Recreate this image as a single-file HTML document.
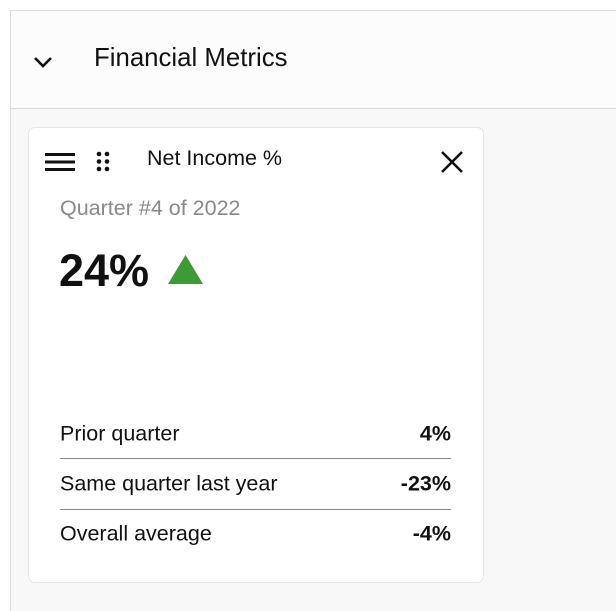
<!DOCTYPE html>
<html><head><meta charset="utf-8"><style>
html,body{margin:0;padding:0;width:616px;height:600px;overflow:hidden;background:#fff;font-family:"Liberation Sans",sans-serif;}
.panel{position:absolute;left:10px;top:10px;width:620px;height:600px;border-left:1px solid #ddd;border-top:1px solid #ddd;background:#f8f8f8;}
.header{position:absolute;left:0;top:0;width:100%;height:97px;background:#fcfcfc;border-bottom:1px solid #d8d8d8;}
.abs{position:absolute;white-space:nowrap;}
.card{position:absolute;left:17px;top:116px;width:454px;height:454px;background:#fff;border:1px solid #e6e6e6;border-radius:7px;}
.row{position:absolute;left:31px;width:391px;height:50px;font-size:21.5px;color:#111;}
.row span{position:absolute;top:50%;transform:translateY(-50%);}
.row .v{right:0;font-weight:bold;}
</style></head><body>
<div class="panel">
 <div class="header">
  <svg class="abs" style="left:22px;top:44px" width="20" height="14"><polyline points="2,3 10,11 18,3" fill="none" stroke="#111" stroke-width="2.6"/></svg>
  <div class="abs" style="left:83px;top:33px;font-size:25.8px;color:#111">Financial Metrics</div>
 </div>
 <div class="card">
  <svg class="abs" style="left:16px;top:24px" width="30" height="20"><rect x="0" y="1" width="30" height="3" fill="#111"/><rect x="0" y="8.5" width="30" height="3" fill="#111"/><rect x="0" y="16" width="30" height="3" fill="#111"/></svg>
  <svg class="abs" style="left:67px;top:23px" width="14" height="22"><circle cx="3" cy="3" r="2.3" fill="#111"/><circle cx="11" cy="3" r="2.3" fill="#111"/><circle cx="3" cy="10.5" r="2.3" fill="#111"/><circle cx="11" cy="10.5" r="2.3" fill="#111"/><circle cx="3" cy="18" r="2.3" fill="#111"/><circle cx="11" cy="18" r="2.3" fill="#111"/></svg>
  <div class="abs" style="left:118px;top:18px;font-size:21.5px;color:#111">Net Income %</div>
  <svg class="abs" style="left:411px;top:22px" width="24" height="24"><path d="M2,2 L22,22 M22,2 L2,22" stroke="#111" stroke-width="2.6"/></svg>
  <div class="abs" style="left:31px;top:68px;font-size:21.5px;color:#888">Quarter #4 of 2022</div>
  <div class="abs" style="left:30px;top:117px;font-size:45px;font-weight:bold;color:#111">24%</div>
  <svg class="abs" style="left:138px;top:126px" width="37" height="31"><polygon points="18.5,1 36,30 1,30" fill="#3d9a35"/></svg>
  <div class="row" style="top:281px"><span>Prior quarter</span><span class="v">4%</span></div>
  <div class="abs" style="left:31px;top:330px;width:391px;height:1px;background:#888"></div>
  <div class="row" style="top:331px"><span>Same quarter last year</span><span class="v">-23%</span></div>
  <div class="abs" style="left:31px;top:381px;width:391px;height:1px;background:#888"></div>
  <div class="row" style="top:381px"><span>Overall average</span><span class="v">-4%</span></div>
 </div>
</div>
</body></html>
